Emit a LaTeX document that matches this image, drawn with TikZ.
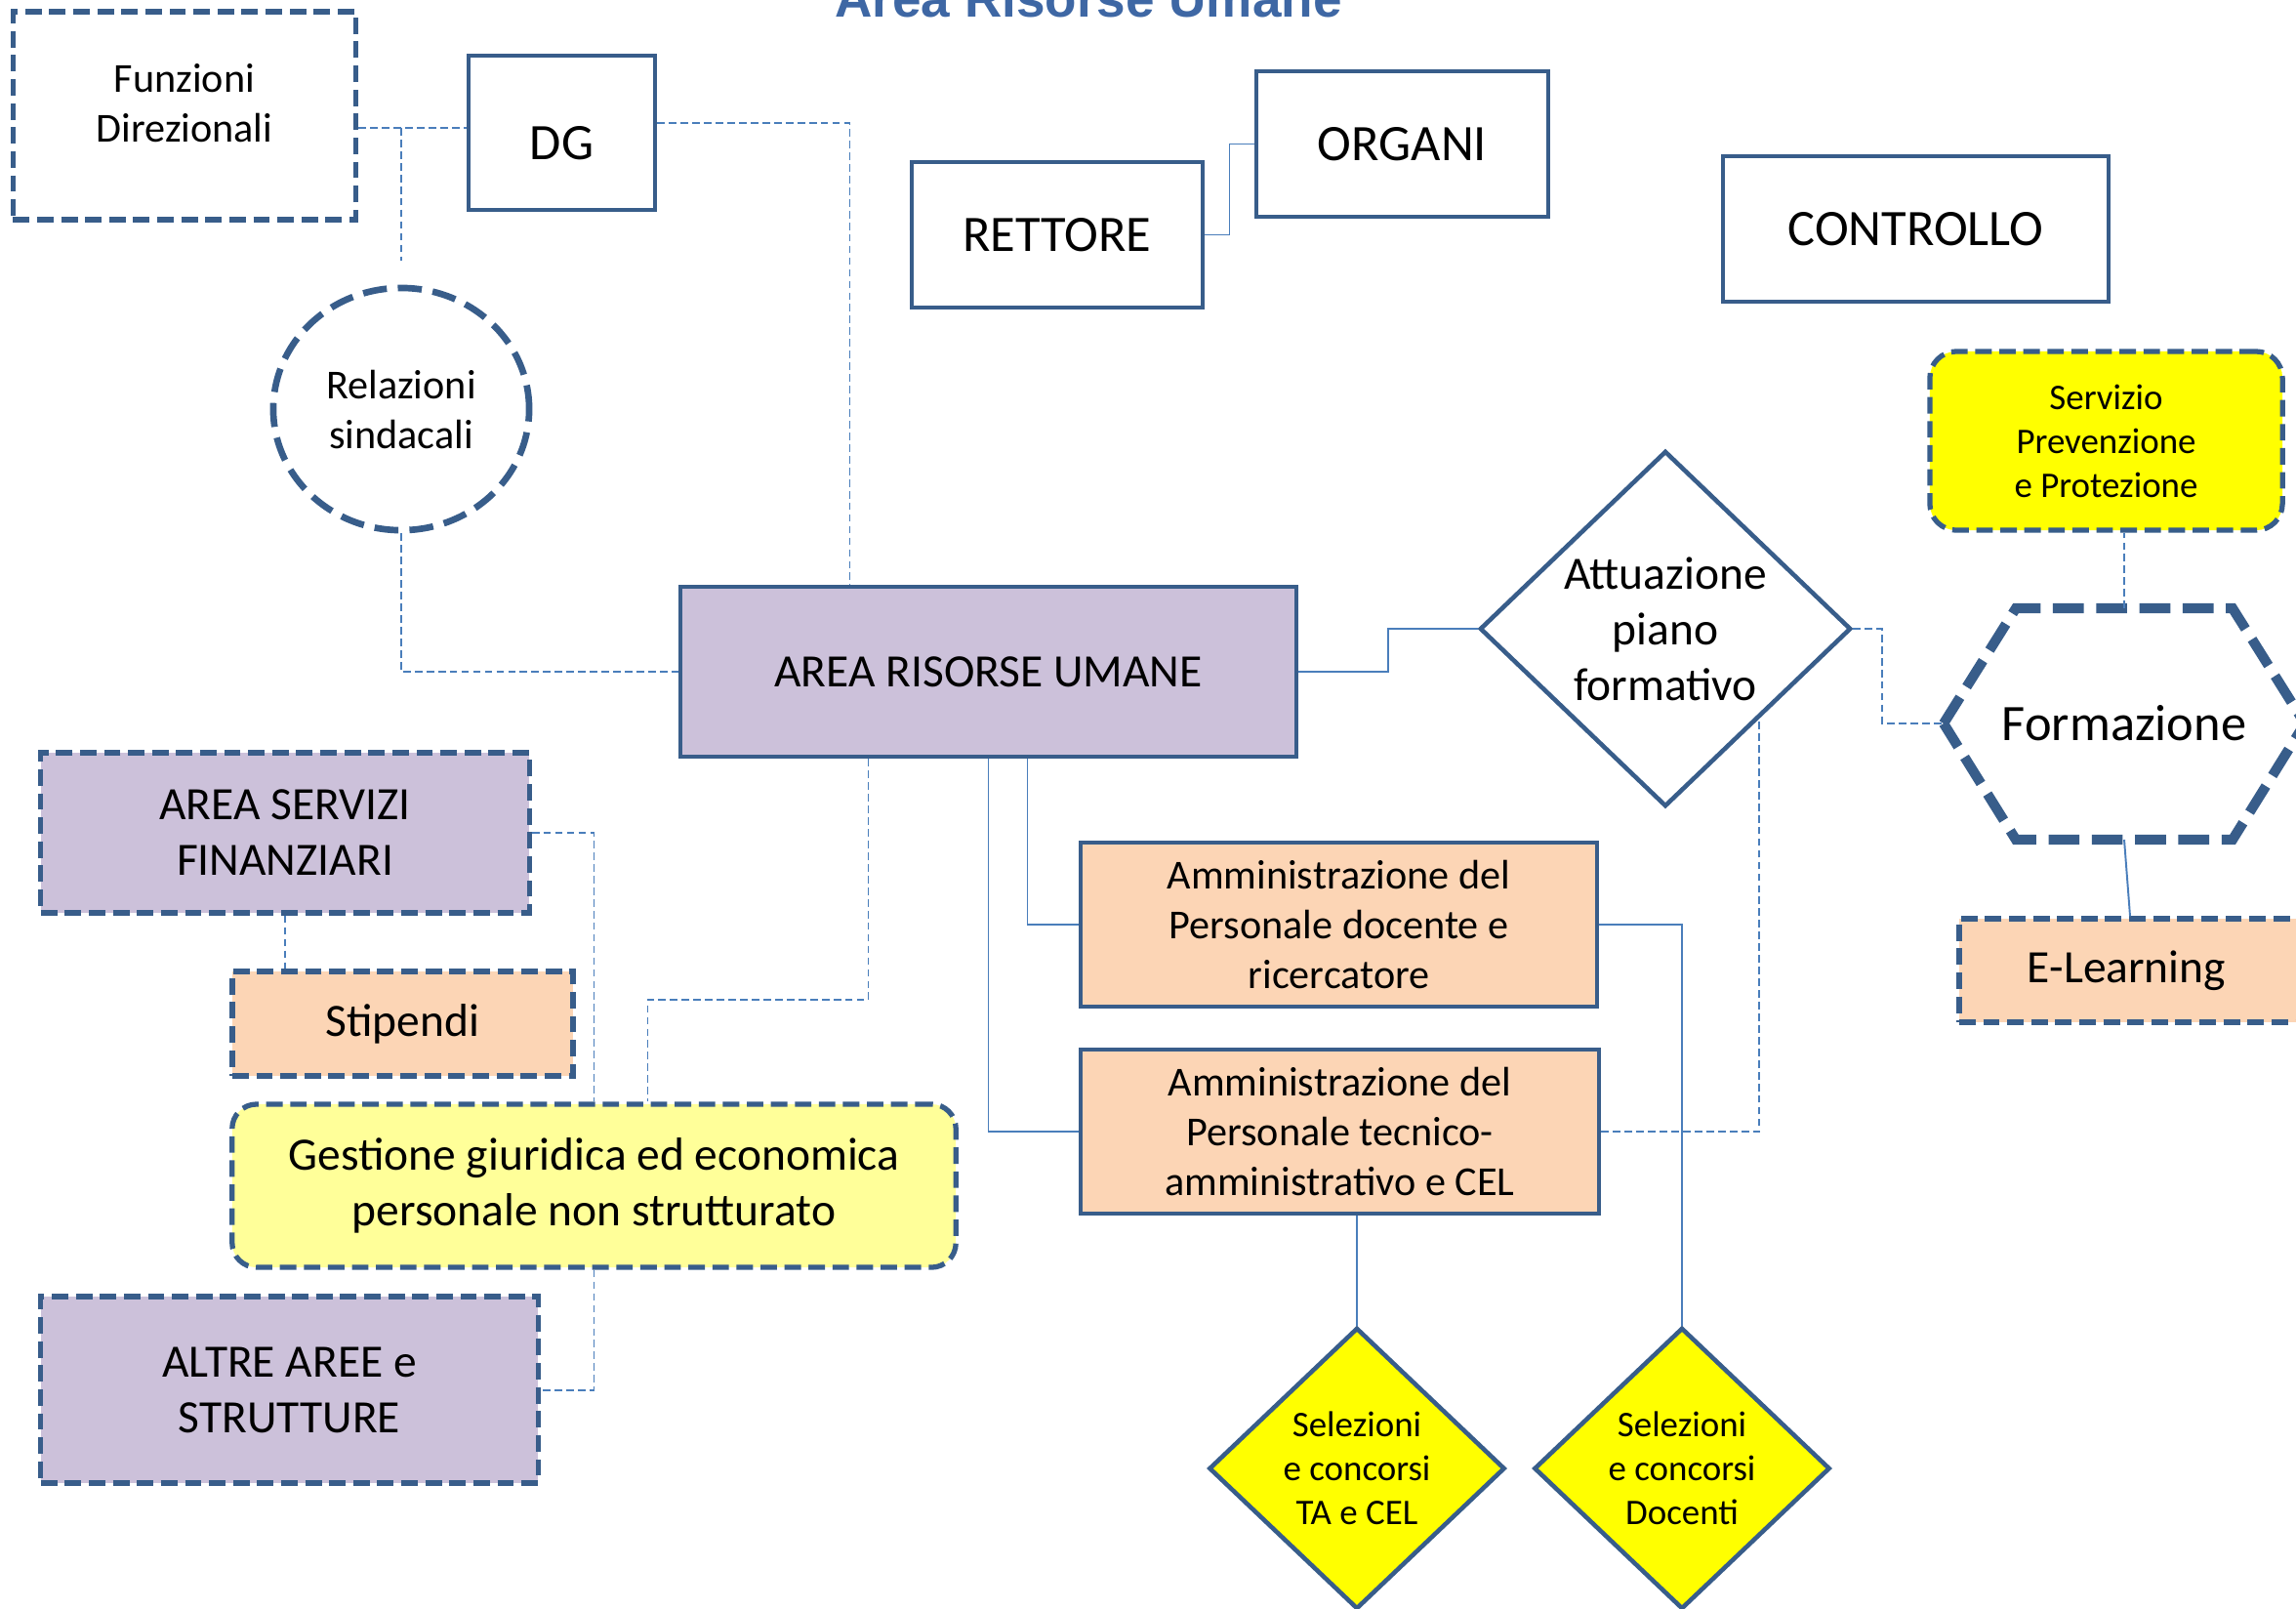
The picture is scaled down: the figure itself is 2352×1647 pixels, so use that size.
\documentclass[tikz,border=0pt]{standalone}
\usepackage{fontspec}
\setmainfont{Carlito}
\newfontfamily\titlefont{Liberation Sans}
\usetikzlibrary{shapes.geometric,calc}
\definecolor{hrblue}{RGB}{56,93,138}
\definecolor{linkblue}{RGB}{74,126,187}
\definecolor{arealilac}{RGB}{204,193,218}
\definecolor{servpeach}{RGB}{252,213,181}
\definecolor{giallo}{RGB}{255,255,0}
\definecolor{giallochiaro}{RGB}{255,255,153}
\definecolor{titleblue}{RGB}{62,103,164}

\begin{document}
\begin{tikzpicture}[x=0.01cm,y=-0.01cm,
    fbig/.style={font=\fontsize{14.9}{18.2}\selectfont},
    fmid/.style={font=\fontsize{13.5}{16.2}\selectfont},
    fsmall/.style={font=\fontsize{12}{14.5}\selectfont},
    ftiny/.style={font=\fontsize{10.5}{12.8}\selectfont},
    solidbox/.style={draw=hrblue,line width=1.3pt,inner sep=0pt,align=center},
    dashbox/.style={solidbox,line width=1.5pt,dash pattern=on 4.8pt off 2.2pt},
    rombo/.style={diamond,draw=hrblue,line width=1.3pt,inner sep=0pt},
    link/.style={draw=linkblue,line width=0.55pt},
    dashlink/.style={link,dash pattern=on 2.2pt off 1.2pt}]
\useasboundingbox (0,0) rectangle (2352,1647);

% titolo (tagliato in alto)
\node[titleblue,anchor=base,font=\titlefont\bfseries\fontsize{15.1}{18}\selectfont] (titolo) at (1115,17) {Area Risorse Umane};

% vertici
\node[dashbox,fsmall,fill=white,minimum width=3.51cm,minimum height=2.13cm] (fd) at (189,118.5)
  {\raisebox{0.09cm}[\height][\depth]{\begin{tabular}{@{}c@{}}Funzioni\\Direzionali\end{tabular}}};
\node[solidbox,fbig,minimum width=1.91cm,minimum height=1.58cm] (dg) at (575.5,136) {\raisebox{-0.11cm}[\height][\depth]{DG}};
\node[ellipse,draw=hrblue,line width=1.9pt,dash pattern=on 7pt off 3.2pt,fsmall,align=center,
      minimum width=2.62cm,minimum height=2.48cm] (rel) at (411,419) {Relazioni\\sindacali};
\node[solidbox,fbig,minimum width=2.98cm,minimum height=1.49cm] (ret) at (1083,240.5) {RETTORE};
\node[solidbox,fbig,minimum width=2.99cm,minimum height=1.49cm] (org) at (1436.5,147.5) {ORGANI};
\node[solidbox,fbig,minimum width=3.95cm,minimum height=1.49cm] (ctl) at (1962.5,234.5) {CONTROLLO};

% area centrale
\node[solidbox,fmid,fill=arealilac,minimum width=6.31cm,minimum height=1.74cm] (main) at (1012.5,688) {AREA RISORSE UMANE};
\node[rombo,fill=white,minimum width=3.8cm,minimum height=3.64cm,
      label={[fmid,align=center]center:Attuazione\\piano\\formativo}] (att) at (1706,644) {};
\node[solidbox,fsmall,fill=servpeach,minimum width=5.29cm,minimum height=1.68cm] (amm1) at (1371.5,947) {Amministrazione del\\Personale docente e\\ricercatore};
\node[solidbox,fsmall,fill=servpeach,minimum width=5.31cm,minimum height=1.68cm] (amm2) at (1372.5,1159) {Amministrazione del\\Personale tecnico-\\amministrativo e CEL};
\node[rombo,fill=giallo,minimum width=3.03cm,minimum height=2.88cm,
      label={[ftiny,align=center]center:Selezioni\\e concorsi\\TA e CEL}] (selta) at (1390,1504) {};
\node[rombo,fill=giallo,minimum width=3.03cm,minimum height=2.88cm,
      label={[ftiny,align=center]center:Selezioni\\e concorsi\\Docenti}] (seldoc) at (1723,1504) {};

% destra
\node[dashbox,ftiny,fill=giallo,rounded corners=0.27cm,minimum width=3.61cm,minimum height=1.83cm] (spp) at (2157.5,451.5) {Servizio\\Prevenzione\\e Protezione};
\node[fbig] (form) at (2176,741) {Formazione};
\coordinate (formW) at ($(form)+(-185,0)$);
\coordinate (formN) at ($(form)+(0,-118)$);
\coordinate (formS) at ($(form)+(0,119)$);
\draw[hrblue,line width=2.9pt,dash pattern=on 9pt off 3.6pt]
  (formW) -- ($(form)+(-111,-118)$) -- ($(form)+(111,-118)$) -- ($(form)+(185,0)$)
  -- ($(form)+(111,119)$) -- ($(form)+(-111,119)$) -- cycle;
\node[dashbox,fmid,fill=servpeach,minimum width=3.5cm,minimum height=1.06cm] (elearn) at (2182,994) {\hspace*{-0.07cm}E-Learning};

% sinistra
\node[dashbox,fmid,fill=arealilac,minimum width=5cm,minimum height=1.64cm] (asf) at (292,853) {AREA SERVIZI\\FINANZIARI};
\node[dashbox,fmid,fill=servpeach,minimum width=3.49cm,minimum height=1.07cm] (stip) at (412.5,1048.5) {Stipendi};
\node[dashbox,fmid,fill=giallochiaro,rounded corners=0.25cm,minimum width=7.41cm,minimum height=1.67cm] (gest) at (608.5,1214.5) {Gestione giuridica ed economica\\personale non strutturato};
\node[dashbox,fmid,fill=arealilac,minimum width=5.09cm,minimum height=1.91cm] (altre) at (296.5,1423.5) {ALTRE AREE e\\STRUTTURE};

% collegamenti
\coordinate (dgW) at ([yshift=0.05cm]dg.west);
\draw[dashlink] (fd.east |- dgW) -- (dgW);
\draw[dashlink] (dgW -| rel.north) -- ([yshift=0.25cm]rel.north);
\draw[dashlink] ([yshift=0.1cm]dg.east) -| ($(main.north)+(-142,0)$);
\draw[dashlink] (rel.south) |- (main.west);
\draw[link] (ret.east) -| ($(ret.east)!0.5!(org.west)$) |- (org.west);
\draw[link] (main.east) -| ($(main.east)!0.5!(att.west)$) |- (att.west);
\draw[link] ($(main.south)+(40,0)$) |- (amm1.west);
\draw[link] (main.south) |- (amm2.west);
\draw[dashlink] ($(main.south)+(-123,0)$) -- ++(0,247) -| ($(gest.north)+(55,0)$);
\draw[link] (amm1.east) -| (seldoc.north);
\draw[link] (selta.north |- amm2.south) -- (selta.north);
\draw[dashlink] (amm2.east) -| (att.south east);
\draw[dashlink] (att.east) -- ++(30,0) |- (formW);
\draw[dashlink] (formN) -- (formN |- spp.south);
\draw[link] (formS) -- (elearn.north);
\draw[dashlink] (asf.south) -- (asf.south |- stip.north);
\draw[dashlink] (asf.east) -| (gest.north);
\draw[dashlink] (gest.south) |- (altre.east);
\end{tikzpicture}
\end{document}
